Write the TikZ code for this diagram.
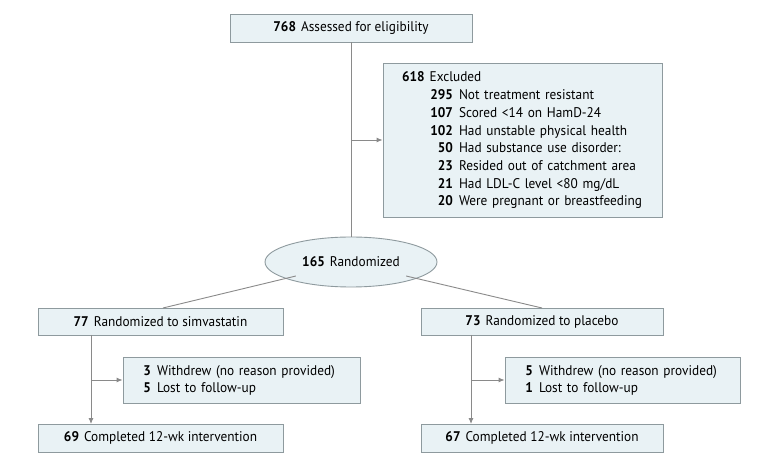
\documentclass[tikz,border=0pt]{standalone}
\usepackage{fontspec}
\setmainfont[FakeStretch=0.95]{PT Sans}
\usetikzlibrary{shapes.geometric,arrows.meta}
\definecolor{boxfill}{HTML}{E9F2F5}
\definecolor{boxdraw}{HTML}{8E9A9E}
\definecolor{linecol}{HTML}{8A8A8A}
\tikzset{
  box/.style={draw=boxdraw, fill=boxfill, line width=0.9pt, rectangle, inner sep=0pt, font=\fontsize{14}{17}\selectfont, text=black},
  oval/.style={draw=boxdraw, fill=boxfill, line width=0.9pt, ellipse, inner sep=0pt, minimum width=172pt, minimum height=50pt, font=\fontsize{14}{17}\selectfont},
  conn/.style={draw=linecol, line width=0.9pt},
  arr/.style={conn, -{Latex[length=6pt,width=5pt]}}
}
\newcommand{\nn}[1]{\makebox[23pt][r]{\textbf{#1}}\hspace{6pt}}
\newcommand{\sn}[1]{\makebox[12pt][r]{\textbf{#1}}\hspace{6pt}}
\begin{document}
\begin{tikzpicture}[x=1pt,y=1pt]
\useasboundingbox[fill=white] (0,0) rectangle (780,-465);
% top
\node[box, minimum width=242pt, minimum height=28pt] (assess) at (351,-28) {\textbf{768}\hspace{5pt}Assessed for eligibility};
\node[box, minimum width=279pt, minimum height=154pt, text width=241pt, inner xsep=19pt, align=left] (excl) at (522.5,-140)
{\fontsize{14}{17.7}\selectfont
\textbf{618}\hspace{5pt}Excluded\\
\hspace{28pt}\nn{295}Not treatment resistant\\
\hspace{28pt}\nn{107}Scored <14 on HamD-24\\
\hspace{28pt}\nn{102}Had unstable physical health\\
\hspace{28pt}\nn{50}Had substance use disorder:\\
\hspace{28pt}\nn{23}Resided out of catchment area\\
\hspace{28pt}\nn{21}Had LDL-C level <80 mg/dL\\
\hspace{28pt}\nn{20}Were pregnant or breastfeeding};
\node[oval] (rand) at (351,-262) {\textbf{165}\hspace{5pt}Randomized};
% left arm
\node[box, minimum width=245pt, minimum height=27pt] (simv) at (160.5,-321.5) {\textbf{77}\hspace{5pt}Randomized to simvastatin};
\node[box, minimum width=237pt, minimum height=46pt, text width=205pt, inner xsep=16pt, align=left] (lwd) at (241.5,-380)
{\fontsize{14}{17.5}\selectfont\sn{3}Withdrew (no reason provided)\\\sn{5}Lost to follow-up};
\node[box, minimum width=245pt, minimum height=28pt] (lcomp) at (160.5,-438) {\textbf{69}\hspace{5pt}Completed 12-wk intervention};
% right arm
\node[box, minimum width=242pt, minimum height=27pt] (plac) at (542,-321.5) {\textbf{73}\hspace{5pt}Randomized to placebo};
\node[box, minimum width=235pt, minimum height=46pt, text width=203pt, inner xsep=16pt, align=left] (rwd) at (622.5,-380)
{\fontsize{14}{17.5}\selectfont\sn{5}Withdrew (no reason provided)\\\sn{1}Lost to follow-up};
\node[box, minimum width=242pt, minimum height=28pt] (rcomp) at (542,-438) {\textbf{67}\hspace{5pt}Completed 12-wk intervention};
% connectors
\draw[conn] (assess.south) -- (rand.north);
\coordinate (eb) at (351,-140);
\draw[arr] (eb) -- (excl.west |- eb);
\path (rand.south west) ++(6,4) coordinate (rl);
\draw[conn] (rl) -- (163,-308);
\path (rand.south east) ++(-6,4) coordinate (rr);
\draw[conn] (rr) -- (542,-308);
\coordinate (lt) at (91,-335);
\coordinate (lb) at (91,-424);
\draw[arr] (lt) -- (lb);
\coordinate (lm) at (91,-380);
\draw[arr] (lm) -- (lwd.west |- lm);
\coordinate (rt) at (471,-335);
\coordinate (rb) at (471,-424);
\draw[arr] (rt) -- (rb);
\coordinate (rm) at (471,-380);
\draw[arr] (rm) -- (rwd.west |- rm);
\end{tikzpicture}
\end{document}
